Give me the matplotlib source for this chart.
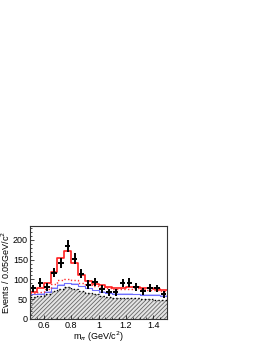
import matplotlib
matplotlib.use('Agg')
import matplotlib.pyplot as plt
import numpy as np

# bin edges (GeV/c^2)
edges = np.linspace(0.5, 1.5, 21)
centers = 0.5 * (edges[:-1] + edges[1:])

# data points
data = [77, 92, 81, 117, 141, 185, 152, 114, 87, 93, 75, 67, 67, 91, 92, 81, 70, 78, 77, 62]
# total fit (red solid)
total = [68, 77, 91, 118, 153, 172, 141, 112, 97, 89, 85, 81, 79, 79, 81, 81, 79, 77, 75, 72]
# red dotted component
red_dot = [65, 68, 75, 88, 98, 102, 98, 90, 85, 82, 80, 78, 76, 76, 76, 77, 75, 74, 72, 70]
# blue component
blue = [62, 64, 68, 78, 86, 90, 88, 82, 77, 72, 68, 66, 64, 63, 63, 62, 61, 61, 60, 58]
# background (black dotted, hatched)
bkg = [55, 57, 62, 70, 76, 80, 76, 70, 65, 62, 58, 55, 53, 53, 53, 52, 51, 50, 49, 47]

plt.rcParams['font.family'] = ['Liberation Sans', 'DejaVu Sans']
plt.rcParams['hatch.color'] = '#555555'
plt.rcParams['hatch.linewidth'] = 0.6

fig = plt.figure(figsize=(2.66, 3.44), dpi=100)
ax = fig.add_axes([0.113, 0.073, 0.515, 0.270])


def steps(vals):
    return np.append(vals, vals[-1])


ax.fill_between(edges, steps(bkg), 0, step='post', facecolor='#e4e4e4',
                edgecolor='#666666', hatch='////////', linewidth=0)
ax.fill_between(edges, steps(np.array(blue) - 2), steps(np.array(blue) + 2), step='post',
                color='#c8c8ff', linewidth=0)
ax.step(edges, steps(bkg), where='post', color='black', ls=':', lw=1.0)
ax.step(edges, steps(blue), where='post', color='#7070ff', lw=0.8)
ax.step(edges, steps(red_dot), where='post', color='#ff3030', ls=':', lw=1.0)
ax.step(edges, steps(total), where='post', color='#ff2020', lw=1.2)
ax.errorbar(centers, data, xerr=0.02, yerr=np.sqrt(data) * 1.1, fmt='none',
            ecolor='black', elinewidth=1.4, capsize=0)

ax.set_xlim(0.5, 1.5)
ax.set_ylim(0, 235)
ax.set_xticks([0.6, 0.8, 1.0, 1.2, 1.4])
ax.set_xticklabels(['0.6', '0.8', '1', '1.2', '1.4'])
ax.set_yticks([0, 50, 100, 150, 200])
ax.set_xticks(np.arange(0.5, 1.51, 0.05), minor=True)
ax.set_yticks(np.arange(0, 235, 10), minor=True)
ax.tick_params(direction='in', labelsize=6.5, length=3, width=0.5, pad=1.5)
ax.tick_params(which='minor', direction='in', length=1.5, width=0.5)
for s in ax.spines.values():
    s.set_linewidth(0.8)
    s.set_color('#333333')

ax.set_xlabel('m$_{\\pi}$ (GeV/c$^2$)', fontsize=6.5, labelpad=0)
ax.set_ylabel('Events / 0.05GeV/c$^2$', fontsize=6.5, labelpad=1)

fig.savefig('out.png', dpi=100)
